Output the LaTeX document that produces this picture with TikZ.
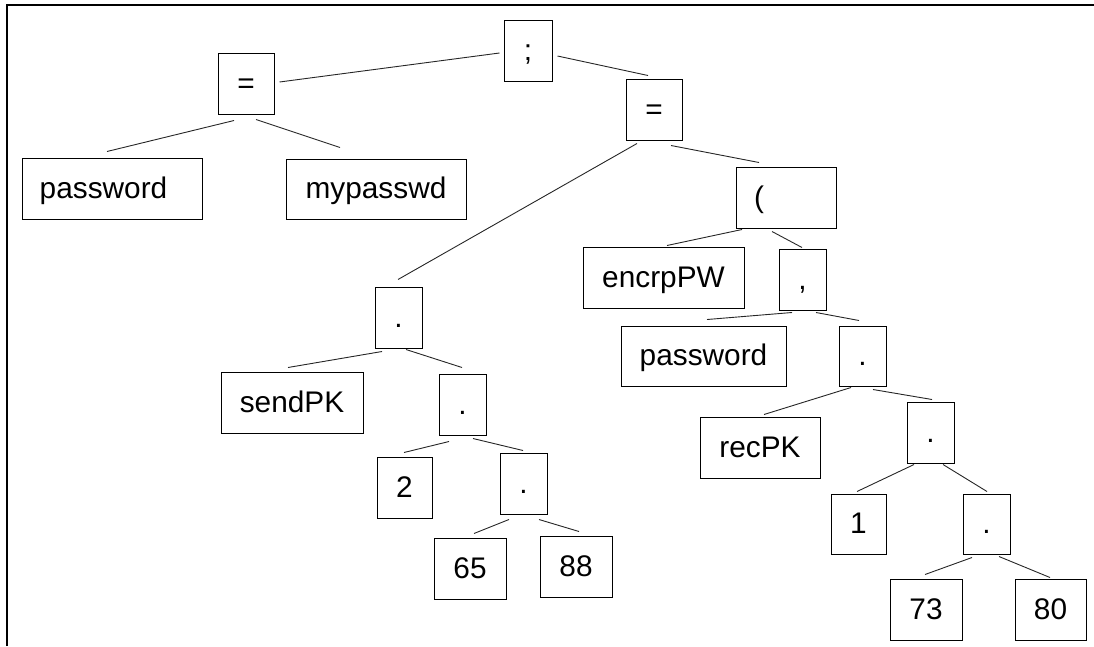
\documentclass[tikz,border=0pt]{standalone}
\usepackage{fontspec}
\setmainfont{Liberation Sans}
\usetikzlibrary{calc}
\tikzset{
  tnode/.style={draw=black, line width=1pt, inner sep=0pt, minimum height=61pt,
    text height=22pt, text depth=3pt, font=\fontsize{29.8}{35}\selectfont},
  edge/.style={line width=0.9pt, black!85},
  frame/.style={line width=1.6pt}
}
\begin{document}
\begin{tikzpicture}[x=1pt,y=-1pt]
\useasboundingbox (0,0) rectangle (1094,646);
\draw[frame] (7,646) -- (7,5) -- (1094,5);

% tree nodes
\node[tnode, minimum width=48pt] (semi) at (528,50.5) {;};
\node[tnode, minimum width=56pt] (eqL) at (246,83.5) {=};
\node[tnode, minimum width=56pt] (eqR) at (654,110) {=};
\node[tnode, minimum width=180pt] (pwL) at (112,188.5) {password\kern17pt\relax};
\node[tnode, minimum width=180pt, minimum height=60pt] (mypw) at (376,189) {mypasswd};
\node[tnode, minimum width=100pt] (paren) at (786,197.5) {(\kern54pt\relax};
\node[tnode, minimum width=47pt] (d1) at (398.5,317.5) {.};
\node[tnode, minimum width=142pt] (sendpk) at (292,402.5) {sendPK};
\node[tnode, minimum width=47pt] (d2) at (462.5,404.5) {.};
\node[tnode, minimum width=55pt] (two) at (404.5,487.5) {2};
\node[tnode, minimum width=47pt] (d3) at (523.5,483.5) {.};
\node[tnode, minimum width=72pt] (n65) at (470,568.5) {65};
\node[tnode, minimum width=72pt] (n88) at (576,566.5) {88};
\node[tnode, minimum width=161pt] (encr) at (663.5,277.5) {encrpPW};
\node[tnode, minimum width=47pt] (comma) at (802.5,279.5) {,};
\node[tnode, minimum width=165pt, minimum height=60pt] (pwR) at (703.5,356) {password};
\node[tnode, minimum width=47pt, minimum height=60pt] (d4) at (862.5,356) {.};
\node[tnode, minimum width=120pt] (recpk) at (760,447.5) {recPK};
\node[tnode, minimum width=47pt] (d5) at (930.5,432.5) {.};
\node[tnode, minimum width=55pt, minimum height=60pt] (one) at (858.5,524) {1};
\node[tnode, minimum width=47pt, minimum height=60pt] (d6) at (986.5,524) {.};
\node[tnode, minimum width=72pt] (n73) at (926,609.5) {73};
\node[tnode, minimum width=71pt] (n80) at (1050.5,609.5) {80};

% connectors (free-floating, with small gaps at both ends)
\draw[edge] ($(semi.west)+(-4,2.5)$) -- ($(eqL.east)+(5,-1.5)$);
\draw[edge] ($(semi.east)+(5,5.5)$) -- ($(eqR.north)+(-6,-3.5)$);
\draw[edge] ($(eqL.south)+(-12,6)$) -- ($(pwL.north)+(-5,-6)$);
\draw[edge] ($(eqL.south)+(10,5)$) -- ($(mypw.north)+(-36,-11)$);
\draw[edge] ($(eqR.south)+(-17,2.5)$) -- ($(d1.north)+(-0.5,-7)$);
\draw[edge] ($(eqR.south)+(17,4.5)$) -- ($(paren.north)+(-27,-4)$);
\draw[edge] ($(d1.south)+(-16.5,3)$) -- ($(sendpk.north)+(-4,-4)$);
\draw[edge] ($(d1.south)+(7.5,1)$) -- ($(d2.north)+(-0.5,-6)$);
\draw[edge] ($(d2.south)+(-13.5,6)$) -- ($(two.north)+(-0.5,-4)$);
\draw[edge] ($(d2.south)+(10.5,3)$) -- ($(d3.north)+(-0.5,-2)$);
\draw[edge] ($(d3.south)+(-14.5,5)$) -- ($(n65.north)+(4,-4)$);
\draw[edge] ($(d3.south)+(15.5,5)$) -- ($(n88.north)+(3,-4)$);
\draw[edge] ($(paren.south)+(-44,1)$) -- ($(encr.north)+(3.5,-1)$);
\draw[edge] ($(paren.south)+(-14,3)$) -- ($(comma.north)+(-0.5,-1)$);
\draw[edge] ($(comma.south)+(-10.5,2)$) -- ($(pwR.north)+(3.5,-6)$);
\draw[edge] ($(comma.south)+(13.5,2)$) -- ($(d4.north)+(-3.5,-5)$);
\draw[edge] ($(d4.south)+(-11.5,1)$) -- ($(recpk.north)+(4,-2)$);
\draw[edge] ($(d4.south)+(10.5,3)$) -- ($(d5.north)+(1.5,-2)$);
\draw[edge] ($(d5.south)+(-16.5,1)$) -- ($(one.north)+(-1.5,-2)$);
\draw[edge] ($(d5.south)+(12.5,1)$) -- ($(d6.north)+(0.5,-2)$);
\draw[edge] ($(d6.south)+(-14.5,3)$) -- ($(n73.north)+(-1,-4)$);
\draw[edge] ($(d6.south)+(12.5,2)$) -- ($(n80.north)+(-0.5,-1)$);
\end{tikzpicture}
\end{document}
